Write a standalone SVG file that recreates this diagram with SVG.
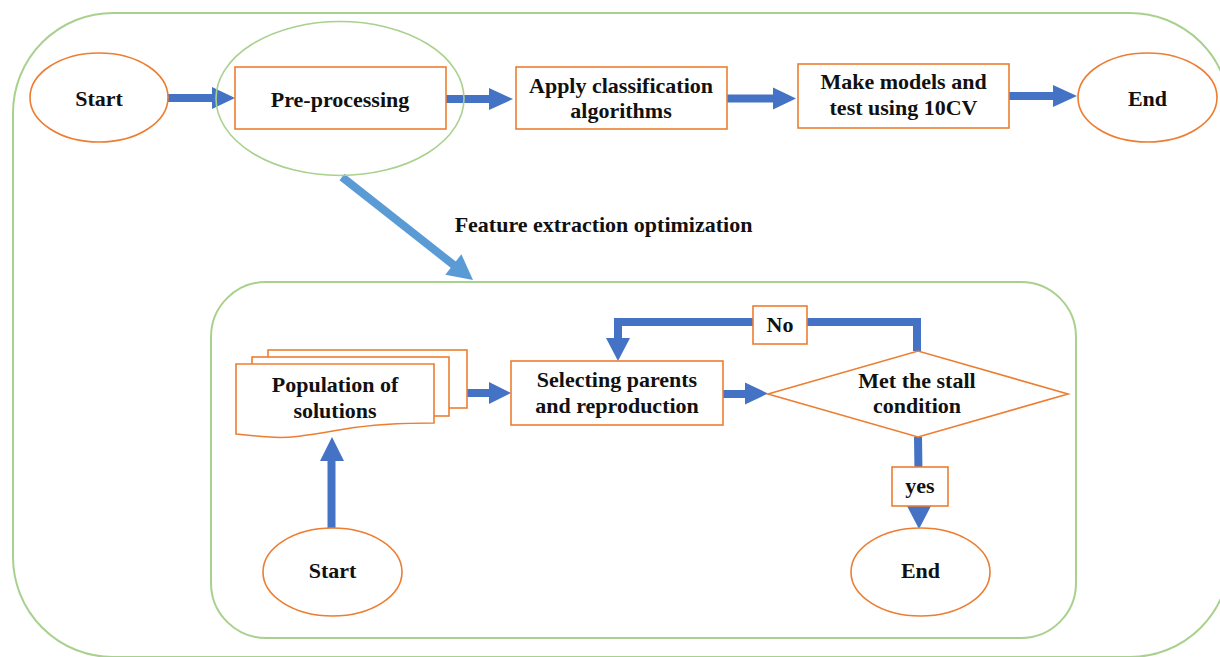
<svg xmlns="http://www.w3.org/2000/svg" width="1220" height="657" viewBox="0 0 1220 657">
<style>
.node{fill:#fff;stroke:#ED7D31;stroke-width:1.6}
.grp{fill:none;stroke:#A9D18E;stroke-width:2}
.t{font-family:"Liberation Serif","Times New Roman",serif;font-weight:bold;font-size:22px;fill:#111;text-anchor:middle}
.c{fill:none;stroke:#4472C4;stroke-width:8}
.cl{fill:none;stroke:#5B9BD5;stroke-width:8}
.h{fill:#4472C4}
.hl{fill:#5B9BD5}
</style>
<rect id="outer" class="grp" x="13" y="13" width="1217" height="644" rx="100" ry="100" stroke="#9FD57F"/>
<rect id="inner" class="grp" x="211" y="282" width="865" height="356" rx="55" ry="55"/>
<g id="connectors">
<line class="c" x1="168" y1="98" x2="214" y2="98"/>
<polygon class="h" points="212,87 235,98 212,109"/>
<line class="c" x1="446" y1="99" x2="491" y2="99"/>
<polygon class="h" points="489,88 513,99 489,110"/>
<line class="c" x1="727" y1="98.5" x2="775" y2="98.5"/>
<polygon class="h" points="773,87.5 796,98.5 773,109.5"/>
<line class="c" x1="1009" y1="96" x2="1055" y2="96"/>
<polygon class="h" points="1053,85 1077,96 1053,107"/>
<line class="cl" x1="342" y1="177" x2="455" y2="266"/>
<polygon class="hl" points="445.3,274.8 473,280 461.4,254.3"/>
<line class="c" x1="467" y1="393" x2="491" y2="393"/>
<polygon class="h" points="489,382 511,393 489,404"/>
<line class="c" x1="723" y1="394" x2="747" y2="394"/>
<polygon class="h" points="745,382.5 768,393.5 745,404.5"/>
<polyline class="c" points="917,351 917,322 618,322 618,340"/>
<polygon class="h" points="606,338 618,361 630,338"/>
<line class="c" x1="918" y1="437" x2="919" y2="508"/>
<polygon class="h" points="907,506 919,529 931,506"/>
<line class="c" x1="331.5" y1="528" x2="331.5" y2="459"/>
<polygon class="h" points="320,461 332,437 344,461"/>
</g>
<g id="preproc-group">
<ellipse cx="340" cy="98.5" rx="124" ry="77" fill="none" stroke="#A9D18E" stroke-width="1.6"/>
</g>
<g id="start-top">
<ellipse class="node" cx="99" cy="97.5" rx="69" ry="44.5"/>
<text class="t" x="99" y="106">Start</text>
</g>
<g id="preprocessing">
<rect class="node" x="235" y="67" width="211" height="62"/>
<text class="t" x="340" y="107">Pre-processing</text>
</g>
<g id="apply">
<rect class="node" x="516" y="67" width="211" height="62"/>
<text class="t" x="621" y="93">Apply classification</text>
<text class="t" x="621" y="118">algorithms</text>
</g>
<g id="make">
<rect class="node" x="798" y="64" width="211" height="64"/>
<text class="t" x="903.5" y="89">Make models and</text>
<text class="t" x="903.5" y="115">test using 10CV</text>
</g>
<g id="end-top">
<ellipse class="node" cx="1147.5" cy="97.5" rx="69.5" ry="44.5"/>
<text class="t" x="1147.5" y="106">End</text>
</g>
<g id="feature-label">
<text class="t" x="603.5" y="232">Feature extraction optimization</text>
</g>
<g id="population">
<rect class="node" x="268" y="350" width="199" height="58"/>
<rect class="node" x="252" y="357" width="197" height="59"/>
<path class="node" d="M236,364 H434 V423 C405,423 375,424 345,429 C315,434 290,439 270,437 C255,436 245,435 236,434 Z"/>
<text class="t" x="335" y="392">Population of</text>
<text class="t" x="335" y="418">solutions</text>
</g>
<g id="selecting">
<rect class="node" x="511" y="361" width="212" height="64"/>
<text class="t" x="617" y="387">Selecting parents</text>
<text class="t" x="617" y="413">and reproduction</text>
</g>
<g id="stall">
<polygon class="node" points="768,394 918,351 1068,394 918,437"/>
<text class="t" x="917" y="388">Met the stall</text>
<text class="t" x="917" y="413">condition</text>
</g>
<g id="no-label">
<rect class="node" x="753" y="306" width="54" height="38"/>
<text class="t" x="780" y="332">No</text>
</g>
<g id="yes-label">
<rect class="node" x="892" y="467" width="56" height="39"/>
<text class="t" x="920" y="493">yes</text>
</g>
<g id="start-bottom">
<ellipse class="node" cx="332.5" cy="572" rx="69.5" ry="44"/>
<text class="t" x="332.5" y="578">Start</text>
</g>
<g id="end-bottom">
<ellipse class="node" cx="920.5" cy="572" rx="69.5" ry="44"/>
<text class="t" x="920.5" y="578">End</text>
</g>
</svg>
